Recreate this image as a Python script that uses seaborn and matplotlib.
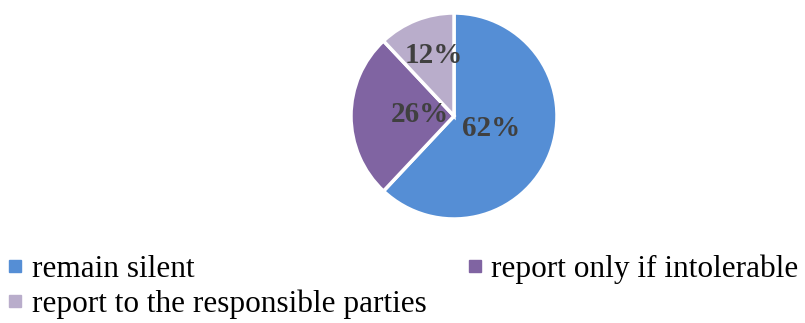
import numpy as np
import matplotlib
matplotlib.use("Agg")
import matplotlib.pyplot as plt
import seaborn as sns
from matplotlib.lines import Line2D

sns.set_theme(style="white")
plt.rcParams['font.family'] = ['Liberation Serif', 'DejaVu Serif']

categories = ["remain silent", "report only if intolerable", "report to the responsible parties"]
values = [62, 26, 12]
colors = ["#558ED5", "#8064A2", "#B9ADCB"]
label_dist = [0.36, 0.36, 0.62]

W, H = 805, 323
fig = plt.figure(figsize=(W / 100, H / 100), dpi=100)
cx, cy, r = 454, 116, 103
ax = fig.add_axes([(cx - r) / W, (H - cy - r) / H, 2 * r / W, 2 * r / H])

wedges, texts = ax.pie(values, colors=colors, startangle=90, counterclock=False,
                       wedgeprops=dict(edgecolor="white", linewidth=2.5))
for w, v, d in zip(wedges, values, label_dist):
    ang = np.deg2rad((w.theta1 + w.theta2) / 2)
    ax.text(d * np.cos(ang) + 0.03, d * np.sin(ang) + 0.01, f"{v}%", ha="center", va="center",
            fontsize=21, fontweight="bold", color="#404040")
ax.set_xlim(-1, 1)
ax.set_ylim(-1, 1)
ax.set_aspect("equal")
ax.axis("off")

handles = [Line2D([0], [0], marker="s", linestyle="", markersize=8,
                  markerfacecolor=c, markeredgecolor=c) for c in colors]
# legend fills column-wise: reorder so rows read [0, 1] / [2]
order = [0, 2, 1]
fig.legend([handles[i] for i in order], [categories[i] for i in order],
           loc="upper left", bbox_to_anchor=(0.0075, 0.212),
           ncol=2, frameon=False, fontsize=22.5, handlelength=0.6, handletextpad=0.22,
           columnspacing=1.25, labelspacing=0.18, borderaxespad=0, borderpad=0,
           labelcolor="black")

fig.savefig("out.png", dpi=100, facecolor="white")
